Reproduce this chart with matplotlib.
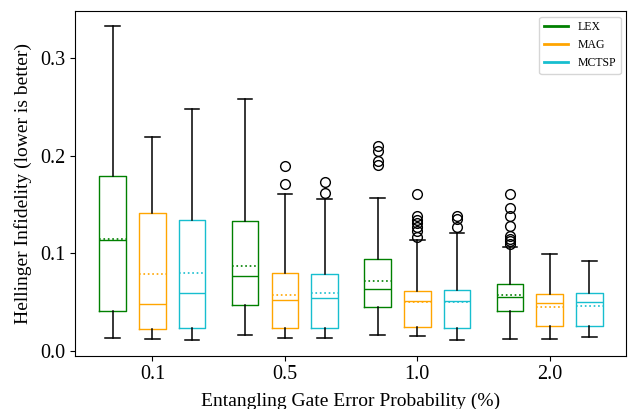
import matplotlib
matplotlib.use("Agg")
import matplotlib.pyplot as plt
from matplotlib.lines import Line2D

plt.rcParams["font.family"] = ["Liberation Serif", "DejaVu Serif"]

GROUPS = ["0.1", "0.5", "1.0", "2.0"]
METHODS = ["LEX", "MAG", "MCTSP"]
COLORS = ["green", "orange", "#17becf"]

# per-method box statistics, one value per error-probability group
LEX_LO = [0.0137, 0.0164, 0.0167, 0.0125]
LEX_Q1 = [0.0410, 0.0468, 0.0454, 0.0412]
LEX_MED = [0.1137, 0.0765, 0.0632, 0.0557]
LEX_MEAN = [0.1148, 0.0874, 0.0717, 0.0575]
LEX_Q3 = [0.1790, 0.1336, 0.0943, 0.0688]
LEX_HI = [0.3330, 0.2583, 0.1571, 0.1070]
LEX_FLIERS = [[], [], [0.2104, 0.2053, 0.1950, 0.1906],
              [0.1609, 0.1469, 0.1387, 0.1281, 0.1178, 0.1150, 0.1125, 0.1100]]

MAG_LO = [0.0123, 0.0136, 0.0151, 0.0123]
MAG_Q1 = [0.0222, 0.0233, 0.0246, 0.0256]
MAG_MED = [0.0482, 0.0526, 0.0516, 0.0489]
MAG_MEAN = [0.0792, 0.0574, 0.0502, 0.0448]
MAG_Q3 = [0.1410, 0.0796, 0.0612, 0.0584]
MAG_HI = [0.2196, 0.1606, 0.1138, 0.0994]
MAG_FLIERS = [[], [0.1893, 0.1709],
              [0.1606, 0.1384, 0.1343, 0.1308, 0.1274, 0.1233, 0.1171], []]

MCTSP_LO = [0.0113, 0.0136, 0.0116, 0.0140]
MCTSP_Q1 = [0.0232, 0.0233, 0.0233, 0.0256]
MCTSP_MED = [0.0594, 0.0540, 0.0512, 0.0499]
MCTSP_MEAN = [0.0802, 0.0598, 0.0499, 0.0461]
MCTSP_Q3 = [0.1345, 0.0789, 0.0628, 0.0591]
MCTSP_HI = [0.2480, 0.1558, 0.1212, 0.0919]
MCTSP_FLIERS = [[], [0.1735, 0.1623], [0.1384, 0.1350, 0.1274], []]

STATS = [
    (LEX_LO, LEX_Q1, LEX_MED, LEX_MEAN, LEX_Q3, LEX_HI, LEX_FLIERS),
    (MAG_LO, MAG_Q1, MAG_MED, MAG_MEAN, MAG_Q3, MAG_HI, MAG_FLIERS),
    (MCTSP_LO, MCTSP_Q1, MCTSP_MED, MCTSP_MEAN, MCTSP_Q3, MCTSP_HI, MCTSP_FLIERS),
]


def build_stats(lo, q1, med, mean, q3, hi, fliers):
    return [dict(whislo=lo[i], q1=q1[i], med=med[i], mean=mean[i], q3=q3[i],
                 whishi=hi[i], fliers=fliers[i]) for i in range(len(GROUPS))]


def main():
    fig = plt.figure(figsize=(6.28, 4.09), dpi=100)
    ax = fig.add_axes([0.1194, 0.1306, 0.8782, 0.8432])

    offsets = [-0.3, 0.0, 0.3]
    for k, (method, color) in enumerate(zip(METHODS, COLORS)):
        stats = build_stats(*STATS[k])
        pos = [i + offsets[k] for i in range(len(GROUPS))]
        ax.bxp(stats, positions=pos, widths=0.2, capwidths=0.11,
               showmeans=True, meanline=True, manage_ticks=False,
               boxprops=dict(color=color, linewidth=1.0),
               medianprops=dict(color=color, linewidth=1.0),
               meanprops=dict(color=color, linestyle=":", linewidth=1.2),
               whiskerprops=dict(color="black", linewidth=1.1),
               capprops=dict(color="black", linewidth=1.1),
               flierprops=dict(marker="o", markerfacecolor="none",
                               markeredgecolor="black", markersize=7,
                               markeredgewidth=1.0))

    ax.set_xticks(range(len(GROUPS)))
    ax.set_xticklabels(GROUPS)
    ax.set_yticks([0.0, 0.1, 0.2, 0.3])
    ax.set_xlim(-0.585, 3.58)
    ax.set_ylim(-0.0048, 0.3488)
    ax.tick_params(labelsize=14.5)
    ax.set_xlabel("Entangling Gate Error Probability (%)", fontsize=14,
                  labelpad=6)
    ax.set_ylabel("Hellinger Infidelity (lower is better)", fontsize=14,
                  labelpad=6)

    handles = [Line2D([0], [0], color=c, linewidth=2) for c in COLORS]
    ax.legend(handles, METHODS, loc="upper right", fontsize=8.5)

    fig.savefig("out.png", dpi=100)


if __name__ == "__main__":
    main()
